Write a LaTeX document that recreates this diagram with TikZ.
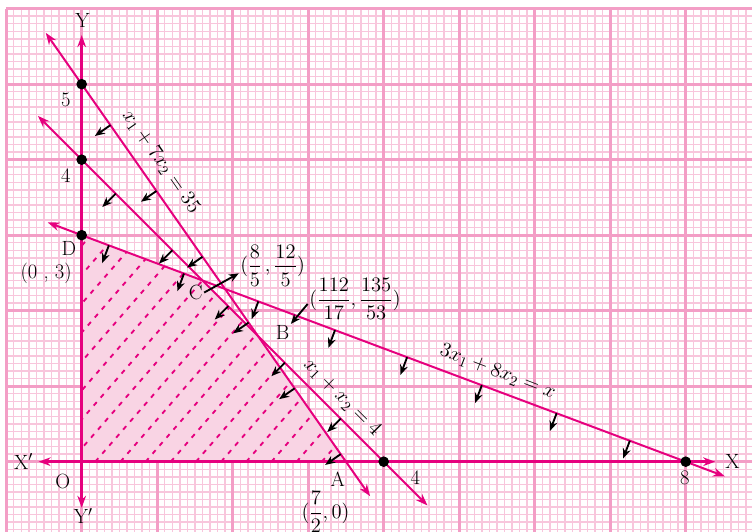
\RequirePackage{fix-cm}
\documentclass[tikz,border=0pt]{standalone}
\usepackage{amsmath,amssymb}
\usepackage{tikz}
\usetikzlibrary{arrows.meta, calc}
\usepackage{xcolor}
\definecolor{deepmagenta}{RGB}{230, 0, 126}
\definecolor{gridpink}{RGB}{243, 158, 198}
\definecolor{lightgridpink}{RGB}{248, 198, 220}
\definecolor{shadepink}{RGB}{249, 212, 228}

\begin{document}
\begin{tikzpicture}[
    x=2cm, y=2cm,
    majgrid/.style={draw=gridpink, line width=2.1pt},
    finegrid/.style={draw=lightgridpink, line width=1.1pt},
    cline/.style={{Stealth[length=9pt,width=6.5pt]}-{Stealth[length=9pt,width=6.5pt]}, line width=1.5pt, deepmagenta},
    axisline/.style={{Stealth[length=9pt,width=6.5pt]}-{Stealth[length=9pt,width=6.5pt]}, line width=2pt, deepmagenta},
    hatch/.style={deepmagenta, line width=1.4pt, dash pattern=on 3.5pt off 4.5pt},
    dirarr/.style={-{Stealth[length=7.5pt,width=6pt]}, line width=1.4pt, black},
    dot/.style={circle, fill=black, inner sep=0pt, minimum size=8pt},
    lbl/.style={font=\fontsize{15.5}{18}\selectfont, inner sep=1pt},
]

\useasboundingbox (-1.082,-0.918) rectangle (8.878,6.115);
\clip (-1.082,-0.918) rectangle (8.878,6.115);
\fill[white] (-1.082,-0.918) rectangle (8.878,6.115);

% 方格纸
\draw[finegrid] (-1,-1) grid[step=0.1] (9,6);
\draw[majgrid] (-1,-1) grid[step=1] (9,6);

% 可行域
\coordinate (O) at (0,0);
\coordinate (A) at (3.5,0);
\coordinate (P) at (7/3,5/3);
\coordinate (C) at (1.6,2.4);
\coordinate (D) at (0,3);
\fill[shadepink] (O) -- (A) -- (P) -- (C) -- (D) -- cycle;
\begin{scope}
  \clip (O) -- (A) -- (P) -- (C) -- (D) -- cycle;
  \foreach \k in {-9,...,10}
    \draw[hatch] ({0.18+\k/3},0) -- ++(49:5);
\end{scope}

% 约束直线
\coordinate (l1a) at (-0.476,5.68);
\coordinate (l1b) at (3.82,-0.457);
\coordinate (l2a) at (-0.58,4.58);
\coordinate (l2b) at (4.58,-0.58);
\coordinate (l3a) at (-0.45,3.169);
\coordinate (l3b) at (8.52,-0.195);
\draw[cline] (l1a) -- (l1b);
\draw[cline] (l2a) -- (l2b);
\draw[cline] (l3a) -- (l3b);

% 坐标轴
\coordinate (xl) at (-0.57,0);
\coordinate (xr) at (8.39,0);
\coordinate (yb) at (0,-0.61);
\coordinate (yt) at (0,5.65);
\draw[axisline] (xl) -- (xr);
\draw[axisline] (yb) -- (yt);

% 方向箭头
\foreach \t in {0.38,0.99,1.60,2.21,2.82,3.43}
  \draw[dirarr] (\t,{(35-10*\t)/7}) -- ++(-0.205,-0.143);
\foreach \t in {0.45,1.20,1.94,2.69,3.43}
  \draw[dirarr] (\t,{4-\t}) -- ++(-0.177,-0.177);
\foreach \t in {0.36,1.355,2.34,3.355,4.31,5.30,6.29,7.26}
  \draw[dirarr] (\t,{(24-3*\t)/8}) -- ++(-0.088,-0.234);

% 交点
\node[dot] (p5) at (0,5) {};
\node[dot] (p4) at (0,4) {};
\node[dot] (p3) at (0,3) {};
\node[dot] (q4) at (4,0) {};
\node[dot] (q8) at (8,0) {};

% 标注
\node[lbl] (ylab)  at (0.01,5.85) {Y};
\node[lbl] (yplab) at (0.02,-0.72) {Y$'$};
\node[lbl] (xlab)  at (8.62,0)    {X};
\node[lbl] (xplab) at (-0.77,0)   {X$'$};
\node[lbl] (olab)  at (-0.25,-0.26) {O};
\node[lbl] (n5)    at (-0.21,4.79) {5};
\node[lbl] (n4y)   at (-0.21,3.79) {4};
\node[lbl] (dlab)  at (-0.17,2.82) {D};
\node[lbl] (dco)   at (-0.47,2.50) {(0 , 3)};
\node[lbl] (n4x)   at (4.42,-0.21) {4};
\node[lbl] (n8)    at (7.99,-0.21) {8};
\node[lbl] (alab)  at (3.39,-0.23) {A};
\node[lbl] (aco)   at (3.23,-0.66) {$(\dfrac{7}{2}, 0)$};
\node[lbl] (clab)  at (1.51,2.24) {C};
\node[lbl] (cco)   at (2.53,2.60) {$(\dfrac{8}{5}\,,\dfrac{12}{5})$};
\node[lbl] (blab)  at (2.66,1.71) {B};
\node[lbl] (bco)   at (3.62,2.16) {$(\dfrac{112}{17},\dfrac{135}{53})$};

\node[lbl, rotate=-55] (l1lab) at (1.05,3.97) {$x_1 + 7x_2 = 35$};
\node[lbl, rotate=-45] (l2lab) at (3.45,0.85) {$x_1 + x_2 = 4$};
\node[lbl, rotate=-21] (l3lab) at (5.51,1.19) {$3x_1 + 8x_2 = x$};

\draw[dirarr] (clab.east) -- ([yshift=-6pt]cco.west);
\draw[dirarr] ([yshift=-4pt]bco.west) -- (blab.north east);

\end{tikzpicture}
\end{document}
